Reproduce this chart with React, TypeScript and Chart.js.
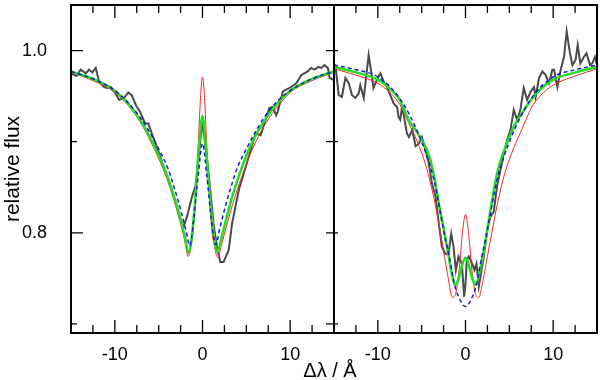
import React, { useEffect, useRef } from "react";
import { Chart, registerables } from "chart.js";

Chart.register(...registerables);

// ---------- Left panel ----------
const leftObsX = [-15, -14.4, -13.9, -13.3, -12.95, -12.56, -12.18, -11.8, -11.23, -10.84, -10.46, -10.08, -9.5, -8.93, -8.47, -8.08, -7.59, -7.13, -6.55, -6.17, -5.78, -4.83, -4.06, -3.3, -2.72, -2.33, -2.15, -1.76, -1.18, -0.8, -0.43, -0.03, 0.49, 0.88, 1.26, 1.64, 2.03, 2.41, 2.99, 3.37, 4.14, 5.29, 6.05, 6.63, 7.2, 7.62, 8.0, 8.4, 8.59, 9.16, 9.54, 10.1, 10.7, 11.26, 11.6, 12.0, 12.4, 12.8, 13.2, 13.56, 13.9, 14.3, 14.5, 14.9, 15];
const leftObsY = [0.975, 0.972, 0.979, 0.975, 0.979, 0.976, 0.981, 0.966, 0.960, 0.959, 0.960, 0.955, 0.946, 0.948, 0.954, 0.951, 0.940, 0.933, 0.920, 0.920, 0.909, 0.884, 0.862, 0.840, 0.821, 0.810, 0.807, 0.818, 0.840, 0.851, 0.884, 0.922, 0.884, 0.847, 0.810, 0.785, 0.768, 0.768, 0.781, 0.810, 0.847, 0.884, 0.909, 0.907, 0.924, 0.937, 0.938, 0.929, 0.933, 0.955, 0.957, 0.960, 0.964, 0.973, 0.975, 0.977, 0.981, 0.979, 0.982, 0.981, 0.984, 0.981, 0.970, 0.968, 0.968];

const leftGreenX = [-15, -12.5, -10, -8.5, -7, -5.5, -4, -3, -2.5, -2, -1.6, -1.2, -0.8, -0.4, 0, 0.4, 0.8, 1.2, 1.7, 2.2, 2.7, 3.4, 4.5, 5.7, 7.2, 8.7, 10, 12.5, 15];
const leftGreenY = [0.977, 0.969, 0.956, 0.942, 0.922, 0.895, 0.862, 0.832, 0.815, 0.795, 0.778, 0.797, 0.840, 0.895, 0.928, 0.892, 0.845, 0.805, 0.779, 0.796, 0.815, 0.840, 0.872, 0.900, 0.925, 0.944, 0.956, 0.969, 0.977];

const leftRedX = [-15, -12.5, -10, -8.5, -7, -5.5, -4, -3, -2.5, -2, -1.65, -1.3, -1.0, -0.6, -0.35, -0.15, 0, 0.15, 0.35, 0.6, 1.0, 1.35, 1.75, 2.2, 2.7, 3.4, 4.5, 5.7, 7.2, 8.7, 10, 12.5, 15];
const leftRedY = [0.976, 0.967, 0.954, 0.940, 0.920, 0.892, 0.858, 0.828, 0.810, 0.790, 0.774, 0.785, 0.810, 0.873, 0.925, 0.960, 0.971, 0.960, 0.925, 0.873, 0.810, 0.785, 0.773, 0.788, 0.806, 0.830, 0.862, 0.892, 0.920, 0.940, 0.954, 0.967, 0.976];

const leftBlueX = [-15, -12.5, -10, -8.5, -7, -6, -5, -4, -3.4, -2.4, -1.9, -1.45, -1.0, -0.5, 0, 0.5, 1.0, 1.5, 2.0, 2.5, 3.4, 4, 5, 6, 7, 8.5, 10, 12.5, 15];
const leftBlueY = [0.977, 0.969, 0.956, 0.943, 0.925, 0.910, 0.892, 0.872, 0.855, 0.822, 0.803, 0.786, 0.815, 0.862, 0.898, 0.862, 0.815, 0.787, 0.806, 0.825, 0.855, 0.872, 0.892, 0.910, 0.926, 0.944, 0.956, 0.969, 0.977];

// ---------- Right panel ----------
const rightObsX = [-15, -14.84, -14.46, -14.1, -13.7, -13.3, -12.95, -12.56, -12.18, -12.0, -11.6, -11.24, -11.05, -10.67, -10.5, -10.1, -9.7, -9.34, -8.96, -8.58, -8.2, -7.8, -7.63, -7.44, -7.25, -7.0, -6.68, -6.45, -6.07, -5.69, -5.31, -4.97, -4.56, -4.18, -3.83, -3.42, -3.04, -2.7, -2.31, -1.94, -1.63, -1.37, -1.1, -0.8, -0.42, -0.15, 0, 0.15, 0.38, 0.76, 1.03, 1.25, 1.52, 1.71, 2.09, 2.47, 2.85, 3.22, 3.6, 3.99, 4.36, 4.75, 5.13, 5.5, 5.89, 6.26, 6.64, 7.03, 7.44, 7.82, 8.0, 8.39, 8.77, 9.15, 9.53, 9.9, 10.1, 10.48, 10.86, 11.24, 11.54, 11.92, 12.2, 12.56, 12.8, 13.1, 13.5, 13.8, 14.2, 14.46, 14.77, 15];
const rightObsY = [0.984, 0.984, 0.951, 0.949, 0.970, 0.964, 0.951, 0.948, 0.953, 0.962, 0.948, 0.979, 0.995, 0.971, 0.959, 0.968, 0.975, 0.966, 0.960, 0.951, 0.942, 0.938, 0.927, 0.924, 0.938, 0.927, 0.909, 0.905, 0.913, 0.895, 0.898, 0.905, 0.891, 0.876, 0.854, 0.840, 0.810, 0.785, 0.777, 0.777, 0.799, 0.785, 0.759, 0.774, 0.766, 0.730, 0.744, 0.770, 0.774, 0.766, 0.759, 0.766, 0.741, 0.752, 0.774, 0.803, 0.818, 0.823, 0.851, 0.869, 0.887, 0.902, 0.913, 0.935, 0.924, 0.935, 0.959, 0.946, 0.955, 0.960, 0.949, 0.970, 0.977, 0.973, 0.964, 0.979, 0.979, 0.960, 0.979, 0.993, 1.021, 0.997, 0.984, 0.990, 1.006, 0.986, 0.993, 0.997, 0.984, 0.986, 0.993, 0.984];

const rightGreenX = [-15, -12.5, -10, -8.5, -7.5, -6.5, -5.5, -4.5, -4, -3.5, -3, -2.5, -2, -1.6, -1.2, -0.8, -0.4, 0, 0.4, 0.8, 1.2, 1.6, 2.1, 2.85, 3.6, 4.2, 4.75, 5.7, 6.5, 7.5, 8.5, 10, 12.5, 15];
const rightGreenY = [0.982, 0.976, 0.968, 0.957, 0.946, 0.924, 0.910, 0.893, 0.880, 0.858, 0.830, 0.805, 0.779, 0.757, 0.743, 0.749, 0.764, 0.773, 0.764, 0.749, 0.743, 0.757, 0.781, 0.825, 0.865, 0.885, 0.899, 0.920, 0.932, 0.946, 0.957, 0.968, 0.976, 0.982];

const rightRedX = [-15, -12.5, -10, -8.5, -7.5, -6.5, -5.5, -4.5, -3.6, -3, -2.5, -2, -1.5, -1.1, -0.7, -0.35, 0, 0.35, 0.7, 1.1, 1.5, 2, 2.5, 3, 3.6, 4.5, 5.5, 6.5, 7.5, 8.5, 10, 12.5, 15];
const rightRedY = [0.980, 0.973, 0.964, 0.953, 0.941, 0.921, 0.900, 0.873, 0.838, 0.808, 0.780, 0.752, 0.729, 0.734, 0.762, 0.800, 0.820, 0.800, 0.762, 0.734, 0.729, 0.748, 0.774, 0.800, 0.830, 0.866, 0.893, 0.915, 0.937, 0.950, 0.962, 0.972, 0.980];

const rightBlueX = [-15, -12.5, -10, -7.4, -5.1, -3.6, -2.5, -1.7, -1.3, -0.6, 0, 0.6, 1.3, 1.7, 2.5, 3.6, 5.1, 7.4, 10, 12.5, 15];
const rightBlueY = [0.984, 0.979, 0.971, 0.946, 0.902, 0.858, 0.803, 0.766, 0.745, 0.726, 0.719, 0.726, 0.745, 0.766, 0.803, 0.858, 0.902, 0.946, 0.971, 0.979, 0.984];

// ---------- Axes ----------
const xLabelTicks = [-10, 0, 10];
const xAllTicks = [-12.5, -10, -7.5, -5, -2.5, 0, 2.5, 5, 7.5, 10, 12.5];
const yAllTicks = [0.7, 0.8, 0.9, 1.0];
const yLabelTicks = [0.8, 1.0];
const yTitle = "relative flux";
const xTitle = "Δλ / Å";

const FONT = "'Liberation Sans', Arial, Helvetica, sans-serif";

const pts = (xs: number[], ys: number[]) => xs.map((x, i) => ({ x, y: ys[i] }));

const COLORS = {
  obs: "#4a4a4a",
  red: "#ee2a2a",
  blue: "#1a1ad6",
  green: "#22dd22",
};

function mkSets(suffix: string, axis: string, obsX: number[], obsY: number[], rx: number[], ry: number[], gx: number[], gy: number[], bx: number[], by: number[]) {
  const common = { xAxisID: axis, yAxisID: "y", pointRadius: 0, fill: false };
  return [
    { ...common, label: "obs " + suffix, data: pts(obsX, obsY), borderColor: COLORS.obs, borderWidth: 2, tension: 0, order: 4 },
    { ...common, label: "red " + suffix, data: pts(rx, ry), borderColor: COLORS.red, borderWidth: 1, cubicInterpolationMode: "monotone", order: 3 },
    { ...common, label: "green " + suffix, data: pts(gx, gy), borderColor: COLORS.green, borderWidth: 2.5, cubicInterpolationMode: "monotone", order: 2 },
    { ...common, label: "blue " + suffix, data: pts(bx, by), borderColor: COLORS.blue, borderWidth: 1.5, borderDash: [4, 3], cubicInterpolationMode: "monotone", order: 1 },
  ];
}

const framePlugin = {
  id: "frame",
  afterDatasetsDraw(chart: any) {
    const { ctx } = chart;
    const y = chart.scales.y;
    const xL = chart.scales.xL;
    const xR = chart.scales.xR;
    ctx.save();
    ctx.strokeStyle = "#000";
    ctx.lineWidth = 1.3;
    ctx.beginPath();
    for (const s of [xL, xR]) {
      for (const v of xAllTicks) {
        const px = s.getPixelForValue(v);
        const len = xLabelTicks.includes(v) ? 13 : 8;
        ctx.moveTo(px, y.bottom);
        ctx.lineTo(px, y.bottom - len);
        ctx.moveTo(px, y.top);
        ctx.lineTo(px, y.top + len);
      }
    }
    for (const v of yAllTicks) {
      const py = y.getPixelForValue(v);
      const big = yLabelTicks.some((t) => Math.abs(t - v) < 1e-6);
      ctx.moveTo(xL.left, py);
      ctx.lineTo(xL.left + (big ? 12 : 6), py);
      ctx.moveTo(xL.right, py);
      ctx.lineTo(xL.right - 8, py);
      ctx.moveTo(xR.left, py);
      ctx.lineTo(xR.left + 4, py);
    }
    ctx.stroke();
    ctx.lineWidth = 2;
    for (const s of [xL, xR]) {
      ctx.strokeRect(s.left, y.top, s.right - s.left, y.bottom - y.top);
    }
    ctx.fillStyle = "#000";
    ctx.font = `20px ${FONT}`;
    ctx.textAlign = "center";
    ctx.textBaseline = "alphabetic";
    ctx.fillText(xTitle, (xL.right + xR.left) / 2 - 4, 377);
    ctx.restore();
  },
};

export default function App() {
  const ref = useRef<HTMLCanvasElement | null>(null);
  useEffect(() => {
    if (!ref.current) return;
    const xScale = () => ({
      type: "linear",
      position: "bottom",
      stack: "x",
      stackWeight: 1,
      min: -15,
      max: 15,
      grid: { display: false },
      border: { display: false },
      afterBuildTicks: (s: any) => {
        s.ticks = xLabelTicks.map((value) => ({ value }));
      },
      ticks: {
        autoSkip: false,
        padding: 3,
        color: "#000",
        font: { family: FONT, size: 18 },
        maxRotation: 0,
        minRotation: 0,
        callback: (v: number) => String(v),
      },
      afterFit: (s: any) => {
        s.height = 47;
        s.paddingLeft = 0;
        s.paddingRight = 0;
      },
    });
    const chart = new Chart(ref.current, {
      type: "line",
      data: {
        datasets: [
          ...mkSets("L", "xL", leftObsX, leftObsY, leftRedX, leftRedY, leftGreenX, leftGreenY, leftBlueX, leftBlueY),
          ...mkSets("R", "xR", rightObsX, rightObsY, rightRedX, rightRedY, rightGreenX, rightGreenY, rightBlueX, rightBlueY),
        ] as any,
      },
      options: {
        animation: false,
        responsive: false,
        maintainAspectRatio: false,
        layout: { padding: { top: 5, right: 3, left: 0, bottom: 0 } },
        plugins: { legend: { display: false }, tooltip: { enabled: false } },
        scales: {
          xL: xScale(),
          xR: xScale(),
          y: {
            type: "linear",
            position: "left",
            min: 0.69,
            max: 1.05,
            grid: { display: false },
            border: { display: false },
            afterBuildTicks: (s: any) => {
              s.ticks = yLabelTicks.map((value) => ({ value }));
            },
            ticks: {
              autoSkip: false,
              padding: 16,
              color: "#000",
              font: { family: FONT, size: 18 },
              callback: (v: number) => v.toFixed(1),
            },
            title: {
              display: true,
              text: yTitle,
              color: "#000",
              font: { family: FONT, size: 21 },
              padding: { top: 1, bottom: 0 },
            },
            afterFit: (s: any) => {
              s.width = 71;
              s.paddingTop = 0;
              s.paddingBottom = 0;
            },
          },
        } as any,
      },
      plugins: [framePlugin],
    });
    return () => chart.destroy();
  }, []);
  return (
    <div style={{ position: "fixed", left: 0, top: 0, width: 600, height: 380, background: "#fff" }}>
      <canvas ref={ref} width={600} height={380} />
    </div>
  );
}
